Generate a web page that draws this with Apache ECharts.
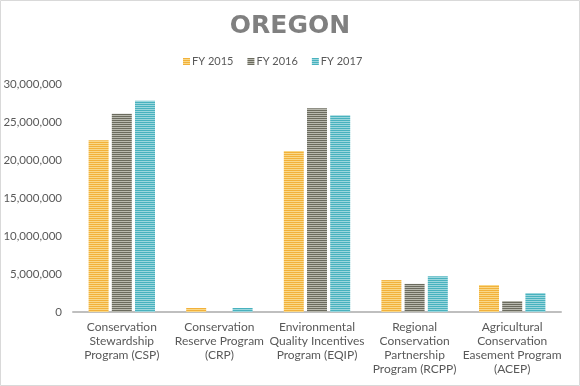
<!DOCTYPE html>
<html><head><meta charset="utf-8">
<script src="https://cdn.jsdelivr.net/npm/echarts@6/dist/echarts.min.js"></script>
<style>html,body{margin:0;padding:0;background:#fff}#c{width:580px;height:386px}</style>
</head><body><div id="c"></div>
<script>
var categories = ["Conservation\nStewardship\nProgram (CSP)", "Conservation\nReserve Program\n(CRP)", "Environmental\nQuality Incentives\nProgram (EQIP)", "Regional\nConservation\nPartnership\nProgram (RCPP)", "Agricultural\nConservation\nEasement Program\n(ACEP)"];
var seriesNames = ["FY 2015", "FY 2016", "FY 2017"];
var fy2015 = [22600000, 530000, 21200000, 4200000, 3550000];
var fy2016 = [26100000, 0, 26800000, 3700000, 1450000];
var fy2017 = [27800000, 530000, 25900000, 4700000, 2500000];
var yTicks = [0, 5000000, 10000000, 15000000, 20000000, 25000000, 30000000];

function stripe(c1, c2) {
  var cv = document.createElement('canvas');
  cv.width = 4; cv.height = 2;
  var ctx = cv.getContext('2d');
  ctx.fillStyle = c1; ctx.fillRect(0, 0, 4, 1);
  ctx.fillStyle = c2; ctx.fillRect(0, 1, 4, 1);
  return { image: cv, repeat: 'repeat' };
}
var cols = [stripe('#F2B13A', '#F9D889'), stripe('#6B6B5E', '#B8B8AE'), stripe('#48B2BE', '#9CD6DD')];
var data = [fy2015, fy2016, fy2017];

var chart = echarts.init(document.getElementById('c'));
var font = 'Lato, "DejaVu Sans", sans-serif';
chart.setOption({
  animation: false,
  graphic: [{ type: 'rect', shape: { x: 0.5, y: 0.5, width: 579, height: 385 }, style: { fill: 'none', stroke: '#D9D9D9', lineWidth: 1 }, silent: true }],
  title: { text: 'OREGON', left: 'center', top: 9, textStyle: { fontFamily: '"DejaVu Sans", sans-serif', fontWeight: 'bold', fontSize: 25, color: '#808080' } },
  legend: {
    top: 51, left: 178, itemWidth: 7, itemHeight: 7, itemGap: 14,
    textStyle: { fontFamily: font, fontSize: 11, color: '#595959', padding: [0, 0, 0, -3] },
    data: seriesNames.map(function (n, i) { return { name: n, icon: 'rect', itemStyle: { color: cols[i] } }; })
  },
  grid: { left: 73, right: 19, top: 84, bottom: 74, containLabel: false },
  xAxis: {
    type: 'category', data: categories,
    axisLine: { lineStyle: { color: '#BFBFBF', width: 2 } },
    axisTick: { show: false },
    axisLabel: { interval: 0, fontFamily: font, fontSize: 12, color: '#595959', lineHeight: 14, margin: 8 }
  },
  yAxis: {
    type: 'value', min: yTicks[0], max: yTicks[yTicks.length - 1], interval: 5000000,
    axisLine: { show: false }, axisTick: { show: false }, splitLine: { show: false },
    axisLabel: { fontFamily: font, fontSize: 11.5, color: '#595959', margin: 11,
      formatter: function (v) { return v.toLocaleString('en-US'); } }
  },
  series: seriesNames.map(function (n, i) {
    return { name: n, type: 'bar', data: data[i], barWidth: 20, barGap: '16%', itemStyle: { color: cols[i] } };
  })
});
</script></body></html>
